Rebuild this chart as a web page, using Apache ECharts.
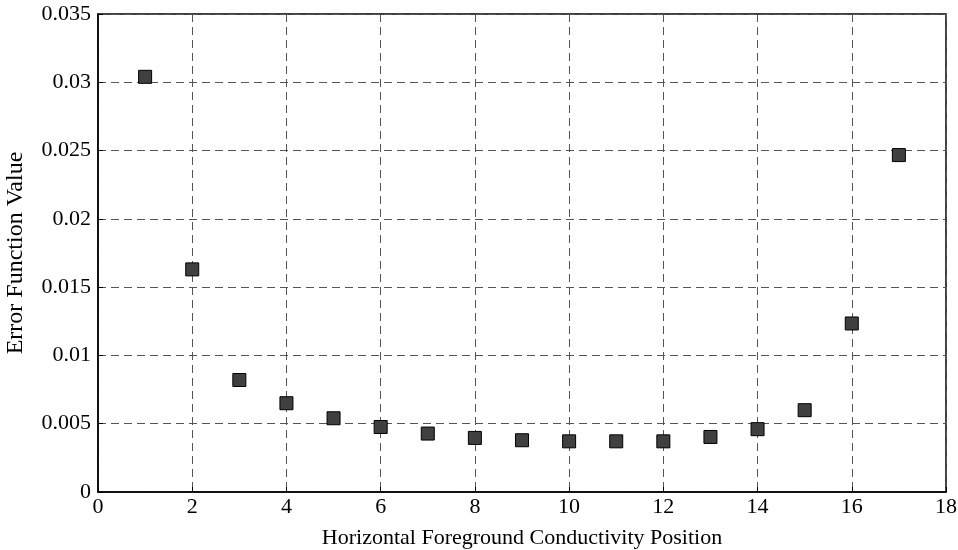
<!DOCTYPE html>
<html>
<head>
<meta charset="utf-8">
<script src="https://cdn.jsdelivr.net/npm/echarts@6/dist/echarts.min.js"></script>
<style>
  html, body { margin: 0; padding: 0; background: #fff; }
  #chart { width: 958px; height: 550px; }
</style>
</head>
<body>
<div id="chart"></div>
<script>
// positions along the horizontal axis
var positions = [1, 2, 3, 4, 5, 6, 7, 8, 9, 10, 11, 12, 13, 14, 15, 16, 17]
// error function value
var errorValues = [0.0304, 0.0163, 0.0082, 0.0065, 0.0054, 0.00476, 0.00428, 0.00396, 0.00379,
  0.00371, 0.00371, 0.00371, 0.00403, 0.0046, 0.00599, 0.01234, 0.02467]

var points = positions.map(function (x, i) { return [x, errorValues[i]] })

var font = 'Liberation Serif, Times New Roman, serif'
var myChart = echarts.init(document.getElementById('chart'))
myChart.setOption({
  animation: false,
  grid: {
    left: 98, right: 12, top: 14, bottom: 58,
    outerBoundsMode: 'none', containLabel: false,
    show: true, borderColor: '#000', borderWidth: 1.5
  },
  xAxis: {
    type: 'value', min: 0, max: 18, interval: 2,
    name: 'Horizontal Foreground Conductivity Position',
    nameLocation: 'middle', nameGap: 35,
    nameTextStyle: { fontFamily: font, fontSize: 22, color: '#000' },
    axisLine: { show: true, lineStyle: { color: '#000', width: 1.5 } },
    axisTick: { show: true, inside: true, length: 5, lineStyle: { color: '#000' } },
    axisLabel: { fontFamily: font, fontSize: 22, color: '#000', margin: 4, hideOverlap: false },
    splitLine: { show: true, lineStyle: { color: '#555', type: [8, 5], width: 1 } }
  },
  yAxis: {
    type: 'value', min: 0, max: 0.035, interval: 0.005,
    name: 'Error Function Value',
    nameLocation: 'middle', nameGap: 70,
    nameTextStyle: { fontFamily: font, fontSize: 24, color: '#000' },
    axisLine: { show: true, lineStyle: { color: '#000', width: 1.5 } },
    axisTick: { show: true, inside: true, length: 5, lineStyle: { color: '#000' } },
    axisLabel: {
      fontFamily: font, fontSize: 22, color: '#000', margin: 7,
      formatter: function (v) { return v === 0 ? '0' : String(+v.toFixed(3)) }
    },
    splitLine: { show: true, lineStyle: { color: '#555', type: [8, 5], width: 1 } }
  },
  series: [{
    type: 'scatter',
    data: points,
    symbol: 'rect',
    symbolSize: 13,
    itemStyle: { color: '#404040', borderColor: '#000', borderWidth: 1, opacity: 1 }
  }]
})
</script>
</body>
</html>
